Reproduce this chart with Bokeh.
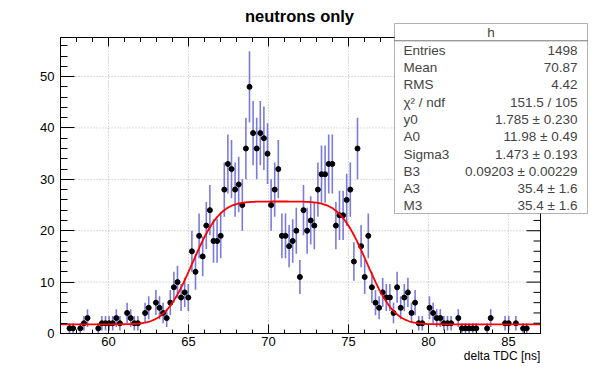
import math
import numpy as np
from bokeh.plotting import figure
from bokeh.models import LinearAxis, SingleIntervalTicker, Label, BoxAnnotation
from bokeh.embed import file_html
from bokeh.resources import INLINE

# ---------------- data ----------------
hist_lo, hist_hi, bin_width = 57.0, 87.0, 0.225
y_max = 57.6

bin_index = [2, 3, 5, 6, 7, 10, 11, 12, 13, 14, 15, 16, 18, 19, 20, 21, 23, 24, 26, 27, 28] \
    + list(range(29, 101)) \
    + [102, 103, 104, 105, 106, 107, 108, 110, 111, 112, 113, 114, 115, 118, 119, 123, 124, 126, 128, 129]

counts = [1, 1, 1, 2, 3, 1, 2, 2, 2, 2, 3, 2, 4, 3, 2, 2, 4, 5, 6, 5, 4,
          3, 6, 9, 10, 7, 8, 7, 16, 12, 19, 15, 21, 24, 18, 18, 19, 28, 33, 32, 28,
          29, 25, 36, 48, 39, 36, 39, 38, 35, 25, 28, 32, 19, 19, 17, 18, 20, 11, 24, 20,
          22, 21, 28, 31, 31, 33, 33, 21, 23, 23, 26, 28, 14, 36, 17, 11, 19, 9, 6, 5,
          8, 7, 7, 4, 9, 5, 7, 8, 4, 6, 2, 2,
          5, 4, 3, 3, 2, 2, 2, 3, 1, 1, 1, 1, 1, 1, 3, 2, 2, 2, 1, 1]

# fit curve (flat top smeared by a gaussian on both edges)
fit_y0 = 1.785
fit_height = 23.9
fit_left_edge = 65.25
fit_right_edge = 76.15
fit_sigma = 1.35

stat_title = "h"
stat_keys = ["Entries", "Mean", "RMS", "\u03c7\u00b2 / ndf", "y0", "A0", "Sigma3", "B3", "A3", "M3"]
stat_vals = ["1498", "70.87", "4.42", "151.5 / 105", "1.785 \u00b1 0.230", "11.98 \u00b1 0.49",
             "1.473 \u00b1 0.193", "0.09203 \u00b1 0.00229", "35.4 \u00b1 1.6", "35.4 \u00b1 1.6"]

x_major_ticks = [60, 65, 70, 75, 80, 85]
x_minor_ticks = [58, 59, 61, 62, 63, 64, 66, 67, 68, 69, 71, 72, 73, 74, 76, 77, 78, 79,
                 81, 82, 83, 84, 86, 87]
y_major_ticks = [0, 10, 20, 30, 40, 50]
y_minor_ticks = [2, 4, 6, 8, 12, 14, 16, 18, 22, 24, 26, 28, 32, 34, 36, 38, 42, 44, 46, 48, 52, 54, 56]

# ---------------- derived ----------------
centers = [hist_lo + bin_width * (i + 0.5) for i in bin_index]
errs = [math.sqrt(c) for c in counts]
lo = [c - e for c, e in zip(counts, errs)]
hi = [c + e for c, e in zip(counts, errs)]

fx = np.linspace(hist_lo, hist_hi, 601)
s2 = fit_sigma * math.sqrt(2.0)
fy = [fit_y0 + fit_height * 0.5 * (math.erf((x - fit_left_edge) / s2) - math.erf((x - fit_right_edge) / s2))
      for x in fx]

# ---------------- layout (pixels of the 600x371 picture) ----------------
PAGE_OFF = 0
W, H = 600, 371
ROOT_L, ROOT_R, ROOT_T, ROOT_B = 60, 540, 37, 333          # the histogram frame in the picture
XPP = (hist_hi - hist_lo) / (ROOT_R - ROOT_L)              # data per pixel
YPP = y_max / (ROOT_B - ROOT_T)


def px2x(px):
    return hist_lo + (px - ROOT_L) * XPP


def py2y(py):
    return (ROOT_B - py) * YPP


# the bokeh frame covers the whole figure; axes are pinned to the histogram frame
p = figure(width=W, height=H,
           x_range=(px2x(PAGE_OFF), px2x(PAGE_OFF + W)), y_range=(py2y(PAGE_OFF + H), py2y(PAGE_OFF)),
           output_backend="svg", toolbar_location=None,
           x_axis_type=None, y_axis_type=None,
           min_border_left=0, min_border_right=0, min_border_top=0, min_border_bottom=0)
p.outline_line_color = None
p.background_fill_color = "white"
p.border_fill_color = "white"


def style_axis(ax, tick_len):
    ax.axis_line_color = "black"
    ax.major_tick_line_color = "black"
    ax.minor_tick_line_color = "black"
    ax.major_tick_in = tick_len
    ax.major_tick_out = 0
    ax.minor_tick_in = tick_len // 2
    ax.minor_tick_out = 0
    ax.major_label_text_font = "Liberation Sans"
    ax.major_label_text_font_size = "13px"
    ax.major_label_text_color = "black"


xb = LinearAxis(ticker=SingleIntervalTicker(interval=5, num_minor_ticks=5), bounds=(hist_lo, hist_hi),
                fixed_location=0)
style_axis(xb, 9)
xb.major_label_standoff = 3
yl = LinearAxis(ticker=SingleIntervalTicker(interval=10, num_minor_ticks=5), bounds=(0, y_max),
                fixed_location=hist_lo)
style_axis(yl, 14)
yl.major_label_standoff = 6
p.add_layout(xb, "below")
p.add_layout(yl, "left")

# grid (dotted), only inside the histogram frame
grid_kw = dict(line_color="#b4b4b4", line_dash="1 2", line_width=1)
p.segment(x0=x_major_ticks, y0=[0] * len(x_major_ticks), x1=x_major_ticks, y1=[y_max] * len(x_major_ticks), **grid_kw)
gy = y_major_ticks[1:]
p.segment(x0=[hist_lo] * len(gy), y0=gy, x1=[hist_hi] * len(gy), y1=gy, **grid_kw)

# error bars, markers, fit
p.segment(x0=centers, y0=lo, x1=centers, y1=hi, line_color="#5a5ad2", line_alpha=0.8, line_width=1.6)
p.scatter(x=centers, y=counts, marker="circle", size=5, fill_color="black", line_color="black")
p.line(x=fx, y=fy, line_color="#ff0000", line_width=1.8)

# histogram frame and the ticks on the top and right sides
p.quad(left=[hist_lo], right=[hist_hi], bottom=[0], top=[y_max], fill_color=None, line_color="black", line_width=1)
tx_major, tx_minor = 9 * YPP, 4.5 * YPP
ty_major, ty_minor = 14 * XPP, 7 * XPP
p.segment(x0=x_major_ticks, y0=[y_max] * len(x_major_ticks), x1=x_major_ticks,
          y1=[y_max - tx_major] * len(x_major_ticks), line_color="black", line_width=1)
p.segment(x0=x_minor_ticks, y0=[y_max] * len(x_minor_ticks), x1=x_minor_ticks,
          y1=[y_max - tx_minor] * len(x_minor_ticks), line_color="black", line_width=1)
p.segment(x0=[hist_hi] * len(y_major_ticks), y0=y_major_ticks, x1=[hist_hi - ty_major] * len(y_major_ticks),
          y1=y_major_ticks, line_color="black", line_width=1)
p.segment(x0=[hist_hi] * len(y_minor_ticks), y0=y_minor_ticks, x1=[hist_hi - ty_minor] * len(y_minor_ticks),
          y1=y_minor_ticks, line_color="black", line_width=1)

# title and x axis title
p.add_layout(Label(x=px2x(299), y=py2y(15), text="neutrons only", text_align="center",
                   text_baseline="middle", text_font="Liberation Sans", text_font_style="bold",
                   text_font_size="16.5px", text_color="black"))
p.add_layout(Label(x=hist_hi, y=py2y(355), text="delta TDC [ns]", text_align="right",
                   text_baseline="middle", text_font="Liberation Sans", text_font_size="12px",
                   text_color="black"))

# stats box
bx0, bx1, by0, by1 = 394, 587, 23, 213
row = (by1 - by0) / (len(stat_keys) + 1)
p.add_layout(BoxAnnotation(left=px2x(bx0), right=px2x(bx1), top=py2y(by0), bottom=py2y(by1),
                           fill_color="white", fill_alpha=1.0, line_color="black", line_width=1))
p.add_layout(BoxAnnotation(left=px2x(bx0), right=px2x(bx1), top=py2y(by0 + row), bottom=py2y(by0 + row + 0.01),
                           fill_alpha=0, line_color="black", line_width=1))
p.add_layout(Label(x=px2x((bx0 + bx1) / 2), y=py2y(by0 + row * 0.5 + 0.5), text=stat_title, text_align="center",
                   text_baseline="middle", text_font="Liberation Sans", text_font_size="13.5px"))
for k, (key, val) in enumerate(zip(stat_keys, stat_vals)):
    yy = py2y(by0 + row * (k + 1.5) + 1)
    p.add_layout(Label(x=px2x(bx0 + 9), y=yy, text=key, text_align="left", text_baseline="middle",
                       text_font="Liberation Sans", text_font_size="13.5px"))
    p.add_layout(Label(x=px2x(bx1 - 10), y=yy, text=val, text_align="right", text_baseline="middle",
                       text_font="Liberation Sans", text_font_size="13.5px"))

open("out.html", "w").write(file_html(p, INLINE))
